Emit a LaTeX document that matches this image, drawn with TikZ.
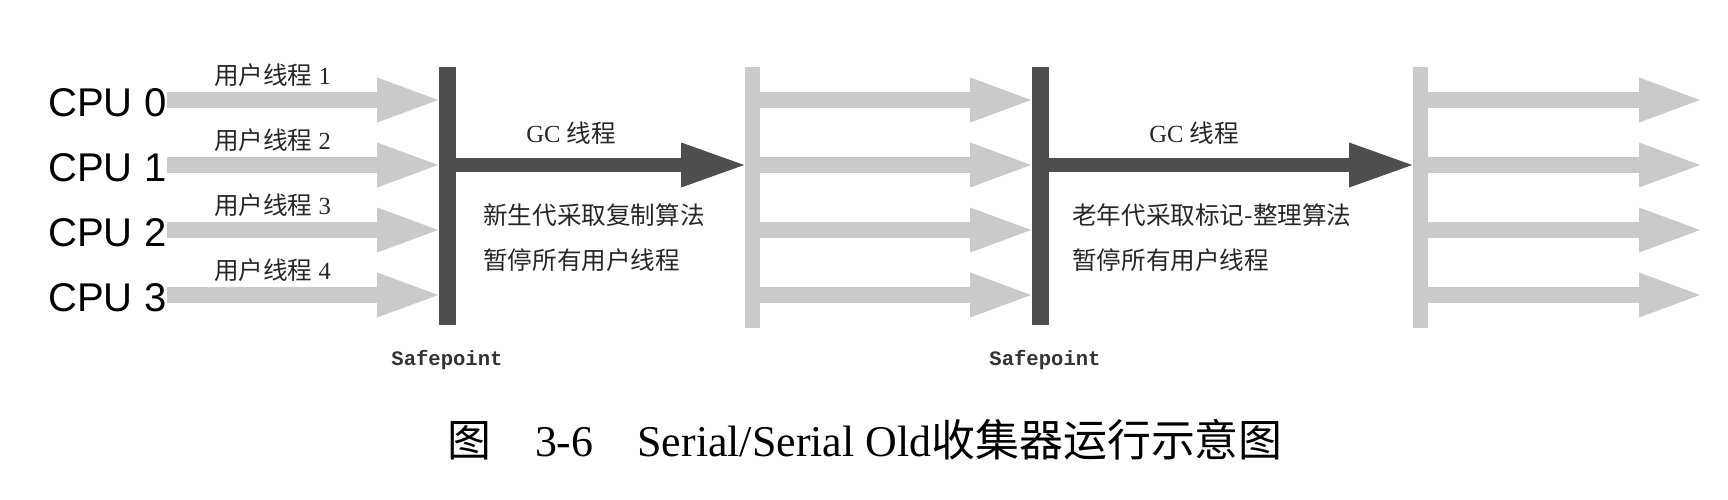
\documentclass[tikz,border=0pt]{standalone}
\usepackage{fontspec}
\setmainfont{Liberation Serif}
\setsansfont{Liberation Sans}
\setmonofont{Liberation Mono}
\newfontfamily\cjk{Noto Sans CJK SC}
\usetikzlibrary{positioning, arrows.meta}

\definecolor{darkbar}{RGB}{78,78,78}
\definecolor{lightbar}{RGB}{202,202,202}

\begin{document}
\begin{tikzpicture}[x=0.02cm, y=-0.02cm,
    cpu/.style={anchor=west, inner sep=0pt, font=\sffamily\fontsize{22.8}{27}\selectfont},
    spbar/.style={fill=darkbar, inner sep=0pt, minimum width=0.34cm, minimum height=5.16cm},
    runbar/.style={fill=lightbar, inner sep=0pt, minimum width=0.3cm, minimum height=5.22cm},
    user/.style={draw=lightbar, line width=0.34cm, -{Triangle[length=1.22cm, width=0.9cm, line width=0pt]}},
    gc/.style={draw=darkbar, line width=0.3cm, -{Triangle[length=1.26cm, width=0.9cm, line width=0pt]}},
    thread/.style={above=0.1cm, inner sep=0pt, text=black!85, font=\fontsize{14}{16}\selectfont},
    desc/.style={anchor=west, align=left, inner sep=0pt, text=black!85, font=\cjk\fontsize{14}{25.6}\selectfont},
    safe/.style={inner sep=0pt, text=black!80, font=\ttfamily\bfseries\fontsize{11.7}{14}\selectfont},
    caption/.style={inner sep=0pt, font=\fontsize{25}{30}\selectfont}]
    \useasboundingbox (0,0) rectangle (1728,500);

    % Rows
    \coordinate (r0) at (0,100);
    \coordinate (r1) at (0,165);
    \coordinate (r2) at (0,230);
    \coordinate (r3) at (0,295);

    % CPU labels
    \node[cpu] (cpu0) at (48,103) {CPU 0};
    \node[cpu] (cpu1) at (48,168) {CPU 1};
    \node[cpu] (cpu2) at (48,233) {CPU 2};
    \node[cpu] (cpu3) at (48,298) {CPU 3};

    % Bars
    \node[spbar] (sp1) at (447,196) {};
    \node[runbar] (run1) at (752,197.5) {};
    \node[spbar] (sp2) at (1040,196) {};
    \node[runbar] (run2) at (1420,197.5) {};

    % Free ends
    \coordinate (e0) at (1700,100);
    \coordinate (e1) at (1700,165);
    \coordinate (e2) at (1700,230);
    \coordinate (e3) at (1700,295);

    % User threads up to the first safepoint
    \draw[user] (cpu0.east |- r0) -- node[thread, pos=0.39] {{\cjk 用户线程} 1} (sp1.west |- r0);
    \draw[user] (cpu1.east |- r1) -- node[thread, pos=0.39] {{\cjk 用户线程} 2} (sp1.west |- r1);
    \draw[user] (cpu2.east |- r2) -- node[thread, pos=0.39] {{\cjk 用户线程} 3} (sp1.west |- r2);
    \draw[user] (cpu3.east |- r3) -- node[thread, pos=0.39] {{\cjk 用户线程} 4} (sp1.west |- r3);

    % First GC thread
    \draw[gc] (sp1.east |- r1) -- node[thread, above=0.26cm, pos=0.4] {GC {\cjk 线程}} (run1.west |- r1);
    \node[desc] (algo1) at (483,237.5) {新生代采取复制算法\\暂停所有用户线程};

    % User threads up to the second safepoint
    \draw[user] (run1.east |- r0) -- (sp2.west |- r0);
    \draw[user] (run1.east |- r1) -- (sp2.west |- r1);
    \draw[user] (run1.east |- r2) -- (sp2.west |- r2);
    \draw[user] (run1.east |- r3) -- (sp2.west |- r3);

    % Second GC thread
    \draw[gc] (sp2.east |- r1) -- node[thread, above=0.26cm, pos=0.4] {GC {\cjk 线程}} (run2.west |- r1);
    \node[desc] (algo2) at (1072,237.5) {老年代采取标记-整理算法\\暂停所有用户线程};

    % User threads after the second collection
    \draw[user] (run2.east |- r0) -- (e0);
    \draw[user] (run2.east |- r1) -- (e1);
    \draw[user] (run2.east |- r2) -- (e2);
    \draw[user] (run2.east |- r3) -- (e3);

    % Safepoints
    \node[safe, below=0.5cm of sp1] (safe1) {Safepoint};
    \node[safe, below=0.5cm of sp2, xshift=0.1cm] (safe2) {Safepoint};

    % Caption
    \node[caption] (cap) at (865,440) {{\cjk 图}\quad 3-6\quad Serial/Serial Old{\cjk 收集器运行示意图}};
\end{tikzpicture}
\end{document}
